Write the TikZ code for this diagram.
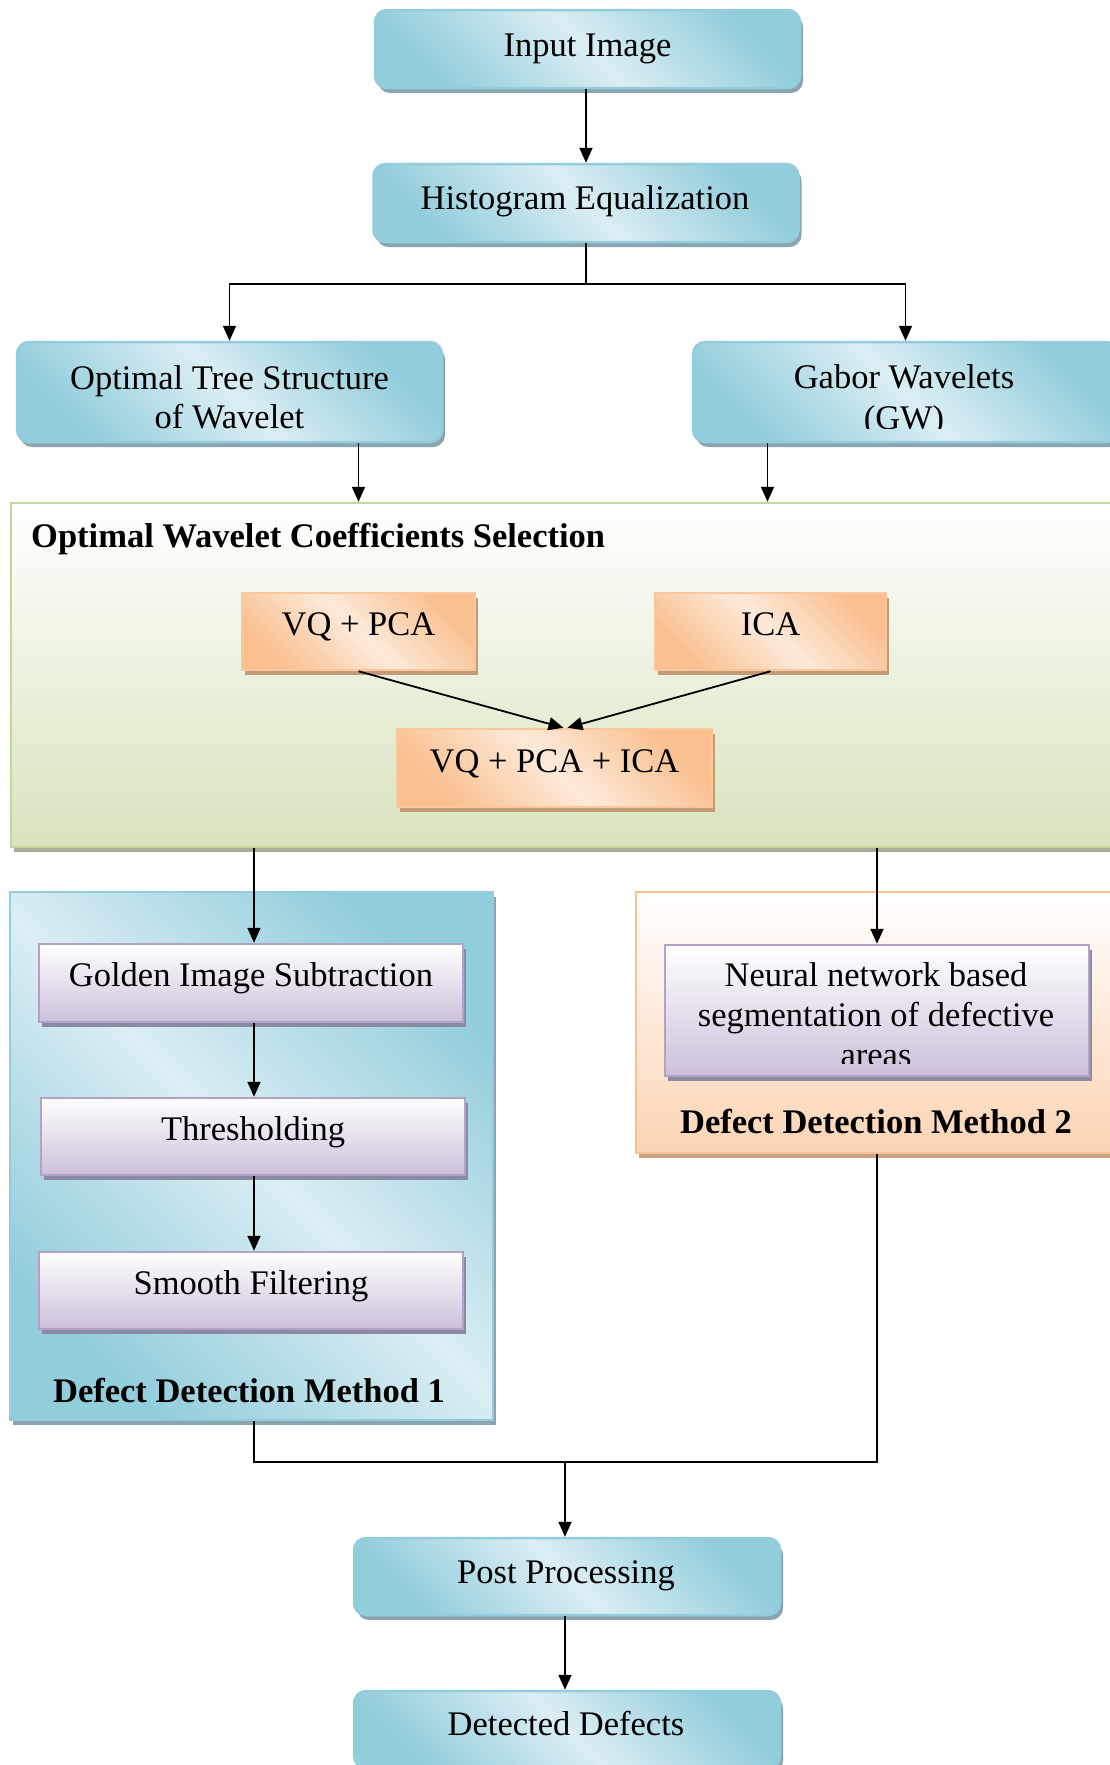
\documentclass[tikz,border=0pt]{standalone}
\usepackage{fontspec}
\setmainfont{Liberation Serif}
\usetikzlibrary{arrows.meta,shadows}

% palette
\definecolor{blueD}{HTML}{92CDDC}
\definecolor{blueL}{HTML}{DBEEF3}
\definecolor{blueB}{HTML}{93CDDD}
\definecolor{blueS}{HTML}{8AA5B0}
\definecolor{orD}{HTML}{FAC090}
\definecolor{orL}{HTML}{FDEADA}
\definecolor{orB}{HTML}{FAC79D}
\definecolor{orS}{HTML}{C49B74}
\definecolor{puD}{HTML}{CCC0DA}
\definecolor{puB}{HTML}{B3A2C7}
\definecolor{puS}{HTML}{8A8AA2}
\definecolor{grD}{HTML}{D7E4BD}
\definecolor{grB}{HTML}{C3D69B}
\definecolor{grS}{HTML}{A7AF98}
\definecolor{pchD}{HTML}{FBD4B4}
\definecolor{pchB}{HTML}{FAC090}
\definecolor{pchS}{HTML}{C9A386}

\begin{document}
\begin{tikzpicture}[
  x=1pt, y=-1pt,
  boxbase/.style={inner sep=0pt, line width=2.5pt},
  bluebox/.style={boxbase, draw=blueB, rounded corners=12pt,
    top color=blueD, bottom color=blueD, middle color=blueL, shading angle=-45,
    drop shadow={shadow xshift=3pt, shadow yshift=-5pt, fill=blueS, opacity=1}},
  orbox/.style={boxbase, draw=orB,
    top color=orD, bottom color=orD, middle color=orL, shading angle=-45,
    drop shadow={shadow xshift=3pt, shadow yshift=-5pt, fill=orS, opacity=1}},
  pubox/.style={boxbase, draw=puB,
    top color=white, bottom color=puD,
    drop shadow={shadow xshift=3pt, shadow yshift=-5pt, fill=puS, opacity=1}},
  greenpanel/.style={boxbase, draw=grB,
    top color=white, bottom color=grD,
    drop shadow={shadow xshift=3pt, shadow yshift=-5pt, fill=grS, opacity=1}},
  bluepanel/.style={boxbase, draw=blueB,
    top color=blueD, bottom color=blueD, middle color=blueL, shading angle=-45,
    drop shadow={shadow xshift=3pt, shadow yshift=-5pt, fill=blueS, opacity=1}},
  peachpanel/.style={boxbase, draw=pchB,
    top color=white, bottom color=pchD,
    drop shadow={shadow xshift=3pt, shadow yshift=-5pt, fill=pchS, opacity=1}},
  txt/.style={inner sep=0pt, anchor=base, font=\fontsize{34.5}{40}\selectfont},
  ttl/.style={inner sep=0pt, anchor=base, font=\bfseries\fontsize{34.5}{40}\selectfont},
  arr/.style={line width=1.8pt, -{Triangle[length=15pt,width=13pt]}},
  ln/.style={line width=1.8pt}
]
\path[use as bounding box, clip] (0,0) rectangle (1110,1765);
\fill[white] (0,0) rectangle (1110,1765);

% ---------- top chain ----------
\node[bluebox, minimum width=425pt, minimum height=78pt] (inp) at (587.5,49) {};
\node[txt] (inpT) at (587.5,56) {Input Image};

\node[bluebox, minimum width=425pt, minimum height=78pt] (hist) at (586,203) {};
\node[txt] (histT) at (585,209) {Histogram Equalization};

\node[bluebox, minimum width=425pt, minimum height=100pt] (opt) at (229.5,392) {};
\node[txt] (optT1) at (229.5,389) {Optimal Tree Structure};
\node[txt] (optT2) at (229.5,428) {of Wavelet};

\node[bluebox, minimum width=425pt, minimum height=100pt] (gw) at (905.5,392) {};
\begin{scope}
  % the second line runs past the text frame and is cut at its lower edge
  \clip (gw.north west) rectangle ([yshift=15pt]gw.south east);
  \node[txt] (gwT1) at (904,388) {Gabor Wavelets};
  \node[txt] (gwT2) at (904,429) {(GW)};
\end{scope}

\coordinate (split) at (586,284);
\draw[arr] (inp.south -| hist.north) -- (hist.north);
\draw[ln] (hist.south) -- (split);
\draw[arr] (split) -| (opt.north);
\draw[arr] (split) -| (gw.north);

% ---------- coefficient selection panel ----------
\node[greenpanel, minimum width=1114pt, minimum height=344pt] (green) at (568,675) {};
\node[ttl, anchor=base west] (greenT) at (31,547) {Optimal Wavelet Coefficients Selection};

\node[orbox, minimum width=233pt, minimum height=77pt] (vqpca) at (358.5,631.5) {};
\node[txt] (vqpcaT) at (358.5,635) {VQ + PCA};
\node[orbox, minimum width=231pt, minimum height=77pt] (ica) at (770.5,631.5) {};
\node[txt] (icaT) at (770.5,635) {ICA};
\node[orbox, minimum width=315pt, minimum height=78pt] (vpi) at (554.5,768) {};
\node[txt] (vpiT) at (554.5,772) {VQ + PCA + ICA};

\draw[arr] (vqpca.south) -- ([xshift=9pt]vpi.north);
\draw[arr] (ica.south) -- ([xshift=13pt]vpi.north);

\draw[arr] (vqpca.north |- opt.south) -- (vqpca.north |- green.north);
\draw[arr] ([xshift=-3pt]ica.north |- gw.south) -- ([xshift=-3pt]ica.north |- green.north);

% ---------- method 1 ----------
\node[bluepanel, minimum width=483pt, minimum height=528pt] (m1) at (251.5,1156) {};
\coordinate (mx) at (254,0);
\node[pubox, minimum width=424pt, minimum height=78pt] (gis) at (251,983) {};
\node[txt] (gisT) at (251,986) {Golden Image Subtraction};
\node[pubox, minimum width=424pt, minimum height=77pt] (thr) at (253,1136.5) {};
\node[txt] (thrT) at (253,1140) {Thresholding};
\node[pubox, minimum width=424pt, minimum height=77pt] (sf) at (251,1290.5) {};
\node[txt] (sfT) at (251,1294) {Smooth Filtering};
\node[ttl] (m1T) at (249,1402) {Defect Detection Method 1};

\draw[arr] (mx |- gis.south) -- (mx |- thr.north);
\draw[arr] (mx |- thr.south) -- (mx |- sf.north);

% ---------- method 2 ----------
\node[peachpanel, minimum width=489pt, minimum height=261pt] (m2) at (880.5,1022.5) {};
\node[pubox, minimum width=424pt, minimum height=131pt] (nn) at (877,1010.5) {};
\begin{scope}
  % the last line is cut at the lower edge of the text frame
  \clip (nn.north west) rectangle ([yshift=14pt]nn.south east);
  \node[txt] (nnT1) at (876,986) {Neural network based};
  \node[txt] (nnT2) at (876,1026) {segmentation of defective};
  \node[txt] (nnT3) at (876,1066) {areas};
\end{scope}
\node[ttl] (m2T) at (876,1133) {Defect Detection Method 2};

\draw[arr] (mx |- green.south) -- (mx |- gis.north);
\draw[arr] (nn.north |- green.south) -- (nn.north);

% ---------- merge and output ----------
\node[bluebox, minimum width=426pt, minimum height=77pt] (pp) at (567,1576.5) {};
\node[txt] (ppT) at (566,1583) {Post Processing};
\node[bluebox, minimum width=426pt, minimum height=77pt] (dd) at (567,1729.5) {};
\node[txt] (ddT) at (566,1735) {Detected Defects};

\coordinate (join) at (565,1462);
\draw[ln] (mx |- m1.south) -- (mx |- join) -- (nn.south |- join) -- (nn.south |- m2.south);
\draw[arr] (join) -- (join |- pp.north);
\draw[arr] (join |- pp.south) -- (join |- dd.north);
\end{tikzpicture}
\end{document}
